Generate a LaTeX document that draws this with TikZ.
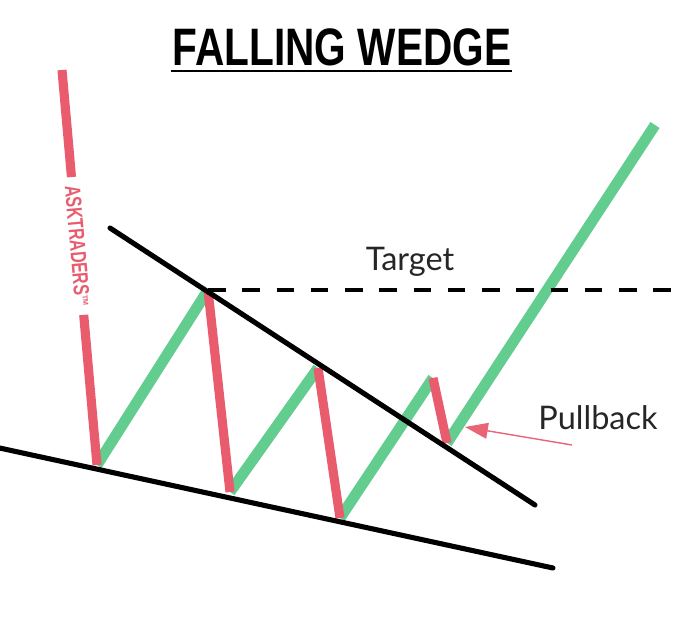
\documentclass[tikz,border=0pt]{standalone}
\usepackage{fontspec}
\setmainfont{Lato}
\newfontfamily\titlefont{Liberation Sans}
\usetikzlibrary{arrows.meta,calc}
\definecolor{barred}{RGB}{232,92,110}
\definecolor{bargreen}{RGB}{98,205,142}
\definecolor{arrowpink}{RGB}{232,100,118}
\begin{document}
\begin{tikzpicture}[x=0.02cm,y=-0.02cm,
  redbar/.style={draw=barred, line width=5.2pt, line cap=butt},
  greenbar/.style={draw=bargreen, line width=6.2pt, line cap=butt},
  trendline/.style={draw=black, line width=2.9pt, line cap=round},
  targetline/.style={draw=black, line width=2.6pt, dash pattern=on 10pt off 9.5pt},
  label/.style={font=\fontsize{18.5}{20}\selectfont, text=black!85, inner sep=0pt}]
\useasboundingbox (0,0) rectangle (680,633);
% price points
\coordinate (top0) at (62,70);
\coordinate (t1) at (97,465);
\coordinate (p1) at (208,290);
\coordinate (t2) at (230,492);
\coordinate (p2) at (318,368);
\coordinate (t3) at (340,518);
\coordinate (p3) at (433,378);
\coordinate (t4) at (447,443);
\coordinate (g4end) at (655,125);
\coordinate (gapA) at ($(top0)!0.271!(t1)$);
\coordinate (gapB) at ($(top0)!0.620!(t1)$);
\coordinate (txtc) at ($(top0)!0.445!(t1)$);
% wedge lines
\coordinate (upA) at (110,228);
\coordinate (upB) at (535,505);
\coordinate (loA) at (-5,447);
\coordinate (loB) at (553,568);
\coordinate (tgEnd) at (680,290);
\coordinate (pbStart) at (572,445);
\coordinate (pbTip) at (465,427);
% green legs
\draw[greenbar] (t1) -- (p1);
\draw[greenbar] (t2) -- (p2);
\draw[greenbar] (t3) -- (p3);
\draw[greenbar] (t4) -- (g4end);
% red legs
\draw[redbar] (top0) -- (gapA);
\draw[redbar] (gapB) -- (t1);
\draw[redbar] (p1) -- (t2);
\draw[redbar] (p2) -- (t3);
\draw[redbar] (p3) -- (t4);
\node[rotate=-85, text=barred, inner sep=0pt] (brand) at (txtc)
  {\titlefont\bfseries\fontsize{12.5}{13}\selectfont\scalebox{0.72}[1]{ASKTRADERS}\raisebox{0.7ex}{\scalebox{0.35}{\fontsize{12}{12}\selectfont TM}}};
% trend lines
\draw[trendline] (upA) -- (upB);
\draw[trendline] (loA) -- (loB);
\draw[targetline] (p1) -- (tgEnd);
% labels
\node[label] (target) at (410,262) {Target};
\node[label] (pullback) at (598,418) {Pullback};
\draw[arrowpink, line width=0.8pt, -{Triangle[length=13pt,width=9pt]}] (pbStart) -- (pbTip);
% title
\node[inner sep=0pt] (title) at (342,47)
  {\titlefont\bfseries\fontsize{30}{31}\selectfont\scalebox{0.77}[1]{FALLING WEDGE}};
\draw[line width=1.7pt] (171,71) -- (512,71);
\end{tikzpicture}
\end{document}
